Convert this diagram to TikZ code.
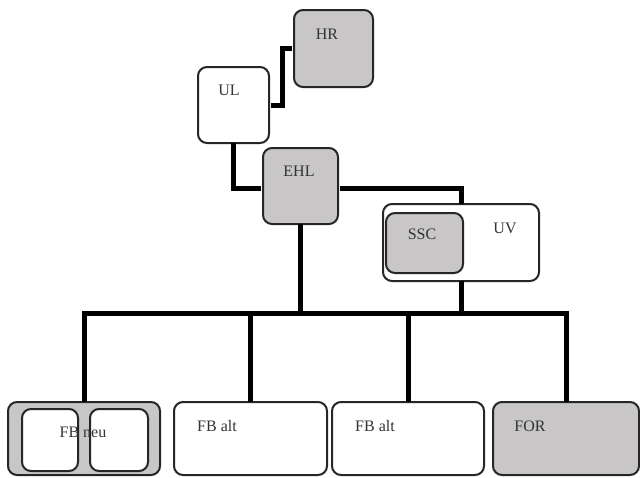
\documentclass[tikz,border=0pt]{standalone}
\usepackage{fontspec}
\setmainfont{Liberation Serif}
\begin{document}
\begin{tikzpicture}[x=1pt,y=-1pt,
  box/.style={draw=black!85,line width=2pt,rounded corners=9pt,anchor=north west,inner sep=0pt},
  gbox/.style={box,fill=boxgray},
  wbox/.style={box,fill=white},
  lbl/.style={font=\fontsize{16}{19}\selectfont,text=black!80,inner sep=0pt},
  conn/.style={line width=5pt,black,line join=miter}]
\definecolor{boxgray}{HTML}{C8C6C6}
\useasboundingbox (0,0) rectangle (640,477);
% boxes
\node[gbox,minimum width=79pt,minimum height=77pt] (HR) at (293,9) {};
\node[wbox,minimum width=71pt,minimum height=76pt] (UL) at (197,66) {};
\node[gbox,minimum width=75pt,minimum height=76pt] (EHL) at (262,147) {};
\node[wbox,minimum width=156pt,minimum height=77pt] (UV) at (382,203) {};
\node[gbox,minimum width=77pt,minimum height=60pt] (SSC) at (385,212) {};
\node[gbox,minimum width=152pt,minimum height=73pt] (FBneu) at (7,401) {};
\node[wbox,minimum width=56pt,minimum height=62pt] (FBa) at (21,408) {};
\node[wbox,minimum width=58pt,minimum height=62pt] (FBb) at (89,408) {};
\node[wbox,minimum width=153pt,minimum height=73pt] (FBalt1) at (173,401) {};
\node[wbox,minimum width=152pt,minimum height=73pt] (FBalt2) at (331,401) {};
\node[gbox,minimum width=146pt,minimum height=73pt] (FOR) at (492,401) {};
% labels
\node[lbl] (tHR) at (327,34) {HR};
\node[lbl] (tUL) at (229,90) {UL};
\node[lbl] (tEHL) at (299,171) {EHL};
\node[lbl] (tSSC) at (422,234) {SSC};
\node[lbl] (tUV) at (505,228) {UV};
\node[lbl] (tFBneu) at (83,432) {FB neu};
\node[lbl] (tFBalt1) at (217,426) {FB alt};
\node[lbl] (tFBalt2) at (375,426) {FB alt};
\node[lbl] (tFOR) at (530,426) {FOR};
% connectors
\coordinate (bus) at (83,313);
\draw[conn] ([xshift=1pt]UL.east) -- ++(11,0) |- ([xshift=-1pt]HR.west);
\draw[conn] ([yshift=1pt]UL.south) |- ([xshift=-1pt,yshift=-2pt]EHL.west);
\draw[conn] ([xshift=1pt,yshift=-2pt]EHL.east) -| ([yshift=-1pt]UV.north);
\draw[conn] ([yshift=1pt]EHL.south) -- (EHL.south |- bus);
\draw[conn] ([yshift=1pt]UV.south) -- (UV.south |- bus);
\draw[conn] ([yshift=-1pt]FBneu.north) -- (FBneu.north |- bus) -- (FOR.north |- bus) -- ([yshift=-1pt]FOR.north);
\draw[conn] (FBalt1.north |- bus) -- ([yshift=-1pt]FBalt1.north);
\draw[conn] (FBalt2.north |- bus) -- ([yshift=-1pt]FBalt2.north);
\end{tikzpicture}
\end{document}
